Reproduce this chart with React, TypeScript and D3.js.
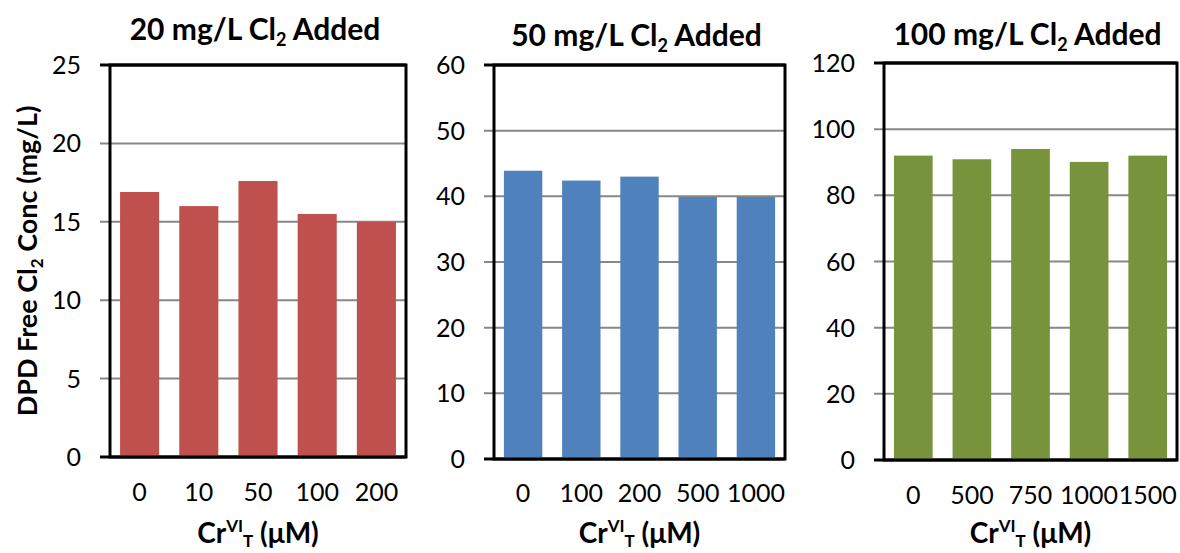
import React from 'react';
import * as d3 from 'd3';

// chart data
const categories20 = ['0', '10', '50', '100', '200'];
const values20 = [16.9, 16.0, 17.6, 15.5, 15.0];

const categories50 = ['0', '100', '200', '500', '1000'];
const values50 = [43.9, 42.4, 43.0, 39.9, 39.9];

const categories100 = ['0', '500', '750', '1000', '1500'];
const values100 = [92.0, 90.9, 94.0, 90.1, 92.0];

const yMax = [25, 60, 120];
const tickCounts = [5, 6, 6];
const doses = ['20', '50', '100'];
const colors = ['#C0504D', '#4F81BD', '#77933C'];

// plot boxes in page pixels
const frames = [
  { left: 110, right: 406, top: 65, bottom: 457, titleY: 40, catY: 501 },
  { left: 494, right: 785, top: 65, bottom: 459, titleY: 46, catY: 502 },
  { left: 884, right: 1177, top: 63, bottom: 460, titleY: 45, catY: 504 }
];

const FONT = 'Lato, "Open Sans", sans-serif';

function Panel({ idx, categories, values }) {
  const f = frames[idx];
  const x = d3
    .scaleBand()
    .domain(categories)
    .range([f.left, f.right])
    .paddingInner(0.34)
    .paddingOuter(0.17);
  const y = d3.scaleLinear().domain([0, yMax[idx]]).range([f.bottom, f.top]);
  const ticks = y.ticks(tickCounts[idx]);
  const cx = (f.left + f.right) / 2;

  return (
    <g>
      {/* gridlines + left ticks */}
      {ticks.map(t => (
        <line
          key={'g' + t}
          x1={f.left - 10}
          x2={f.right}
          y1={y(t)}
          y2={y(t)}
          stroke={t === 0 || t === yMax[idx] ? '#000' : '#878787'}
          strokeWidth={t === 0 || t === yMax[idx] ? 3 : 2}
        />
      ))}
      {values.map((v, i) => (
        <rect
          key={'b' + i}
          x={x(categories[i])}
          width={x.bandwidth()}
          y={y(v)}
          height={y(0) - y(v)}
          fill={colors[idx]}
        />
      ))}
      <rect
        x={f.left}
        y={f.top}
        width={f.right - f.left}
        height={f.bottom - f.top}
        fill="none"
        stroke="#000"
        strokeWidth={3}
      />
      {ticks.map(t => (
        <text
          key={'t' + t}
          x={f.left - 29}
          y={y(t)}
          dy="0.36em"
          textAnchor="end"
          fontSize={25}
          fontFamily={FONT}
        >
          {t}
        </text>
      ))}
      {categories.map(c => (
        <text
          key={'c' + c}
          x={x(c) + x.bandwidth() / 2}
          y={f.catY}
          textAnchor="middle"
          fontSize={25}
          fontFamily={FONT}
        >
          {c}
        </text>
      ))}
      <text
        x={cx - 3}
        y={f.titleY}
        textAnchor="middle"
        fontSize={30}
        fontWeight="bold"
        fontFamily={FONT}
      >
        {doses[idx]} mg/L Cl
        <tspan fontSize={18} dy={6}>2</tspan>
        <tspan dy={-6}> Added</tspan>
      </text>
      <text
        x={cx}
        y={543}
        textAnchor="middle"
        fontSize={28}
        fontWeight="bold"
        fontFamily={FONT}
      >
        Cr
        <tspan fontSize={17} dy={-11}>VI</tspan>
        <tspan fontSize={17} dy={15}>T</tspan>
        <tspan dy={-4}> (μM)</tspan>
      </text>
    </g>
  );
}

export default function App() {
  const f = frames[0];
  const midY = (f.top + f.bottom) / 2;
  return (
    <svg
      width={1180}
      height={553}
      style={{ position: 'absolute', left: 0, top: 0, background: '#fff' }}
    >
      <rect width={1180} height={553} fill="#fff" />
      <Panel idx={0} categories={categories20} values={values20} />
      <Panel idx={1} categories={categories50} values={values50} />
      <Panel idx={2} categories={categories100} values={values100} />
      <text
        transform={`translate(37,${midY}) rotate(-90)`}
        textAnchor="middle"
        fontSize={27}
        fontWeight="bold"
        fontFamily={FONT}
      >
        DPD Free Cl
        <tspan fontSize={17} dy={6}>2</tspan>
        <tspan dy={-6}> Conc (mg/L)</tspan>
      </text>
    </svg>
  );
}
